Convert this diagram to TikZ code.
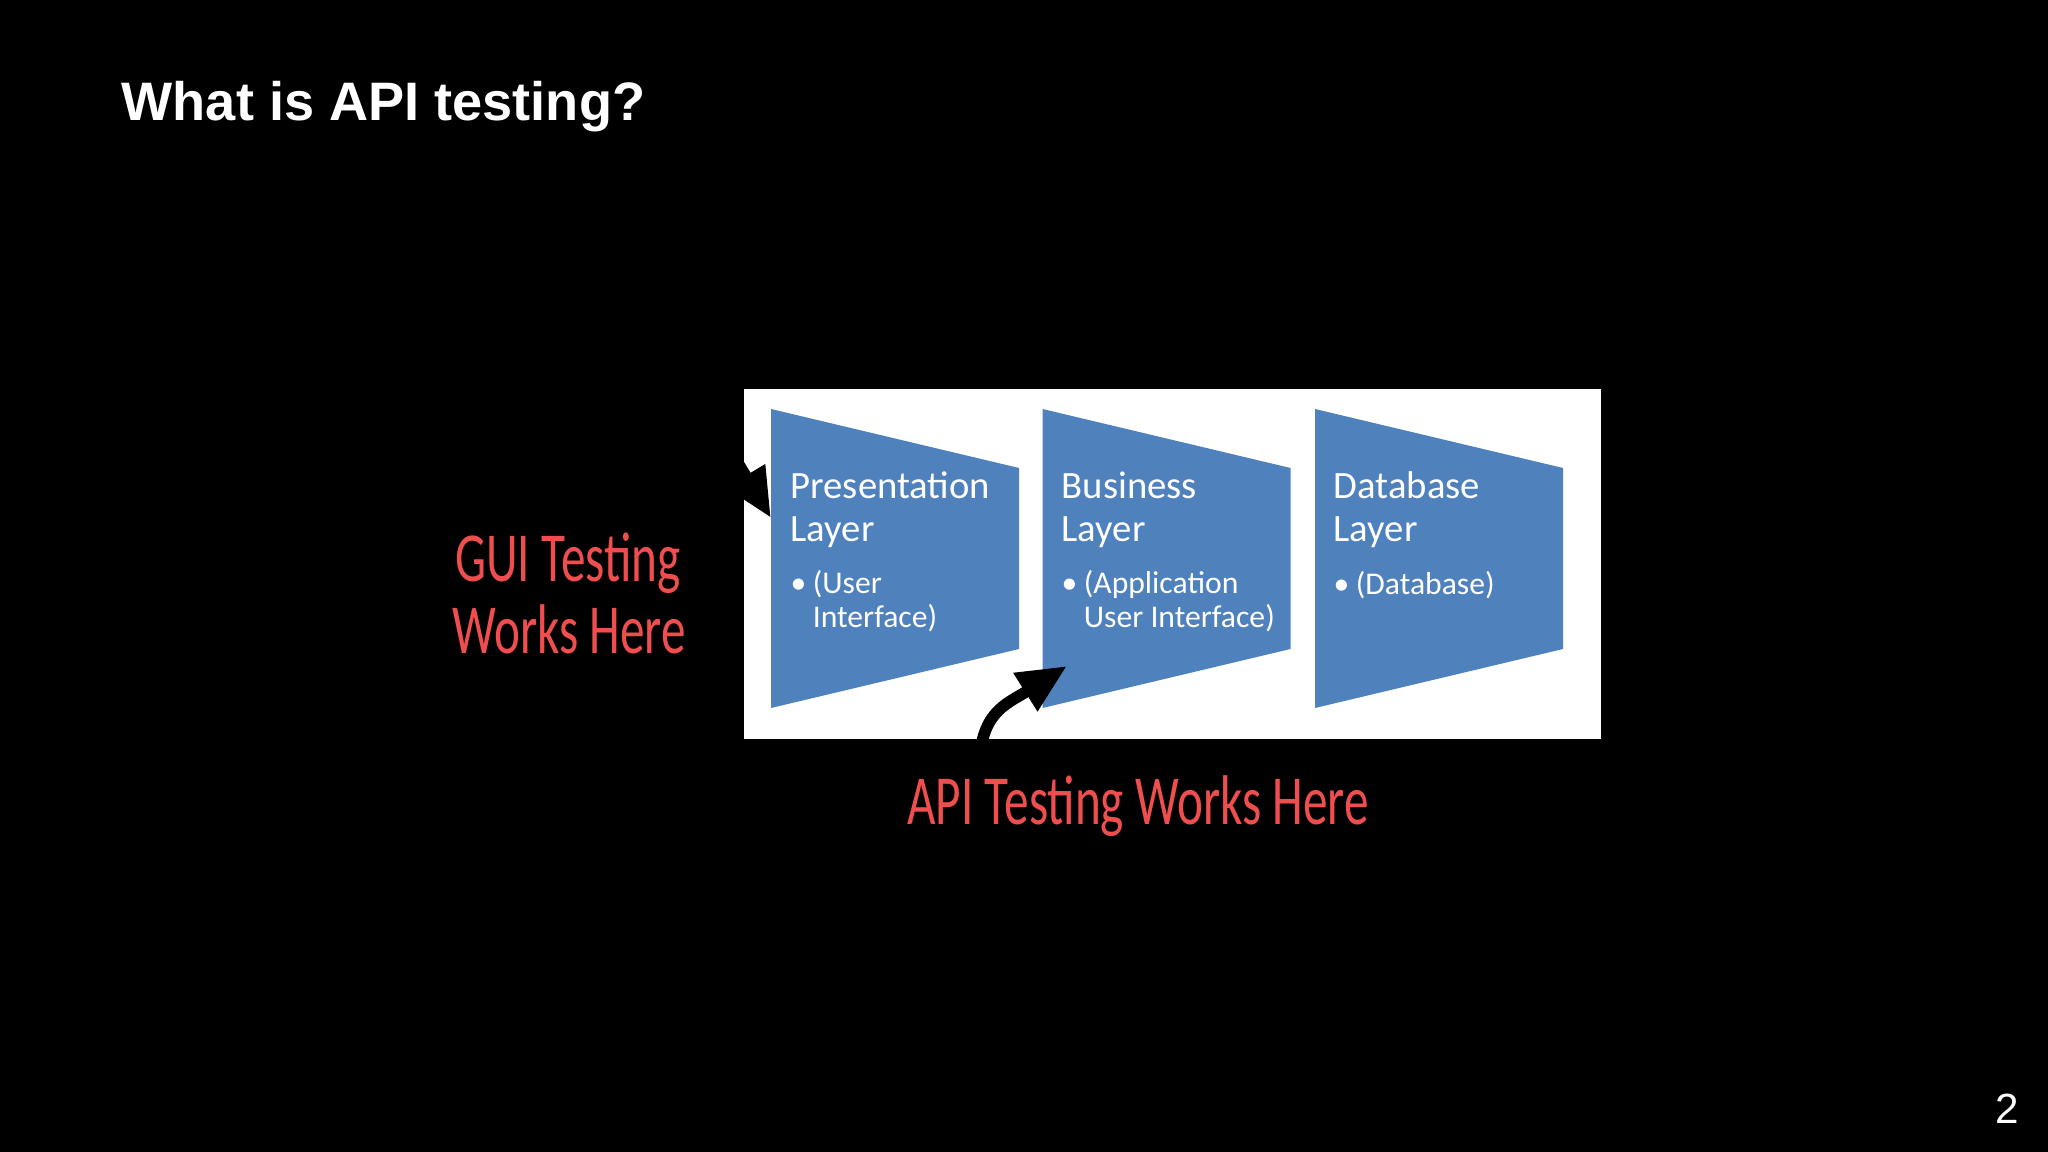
\documentclass[tikz,border=0pt]{standalone}
\usepackage{fontspec}
\setmainfont{Liberation Sans}
\newfontfamily\calib{Carlito}
\usetikzlibrary{arrows.meta}
\definecolor{layerblue}{RGB}{79,129,189}
\definecolor{handred}{RGB}{238,78,78}
\tikzset{
  layershape/.style={fill=layerblue},
  layertitle/.style={anchor=base west, inner sep=0, text=white, align=left,
    font=\calib\fontsize{11}{12.5}\selectfont},
  layerbullet/.style={anchor=base west, inner sep=0, text=white, align=left,
    font=\calib\fontsize{9}{9.5}\selectfont},
  handtext/.style={anchor=base, inner sep=0, text=handred, align=center,
    font=\calib\fontsize{20}{20.5}\selectfont},
  fatarrow/.style={draw=black, line width=3.3pt,
    -{Triangle[length=14pt,width=12pt]}}
}
\newcommand\bul{\makebox[6.3pt][l]{•}}
\begin{document}
\begin{tikzpicture}[x=0.01cm,y=-0.01cm]
\fill[black] (0,0) rectangle (2048,1152);
\useasboundingbox (0,0) rectangle (2048,1152);

\node[anchor=base west, inner sep=0, text=white,
  font=\fontsize{15.4}{18}\selectfont\bfseries] (title) at (121,121) {What is API testing?};
\node[anchor=base east, inner sep=0, text=white,
  font=\fontsize{12}{14}\selectfont] (pnum) at (2020,1123) {2};

\node[fill=white, inner sep=0, minimum width=8.57cm, minimum height=3.5cm,
  anchor=north west] (panel) at (743,388) {};

\fill[layershape] (771,409) -- (1019,468) -- (1019,649) -- (771,708) -- cycle;
\fill[layershape] (1042.5,409) -- (1290.5,468) -- (1290.5,649) -- (1042.5,708) -- cycle;
\fill[layershape] (1315,409) -- (1563,468) -- (1563,649) -- (1315,708) -- cycle;

\node[layertitle] (pres) at (790,542) {Presentation\\Layer};
\node[layerbullet] (presb) at (790,627) {\bul(User\\\hspace*{6.3pt}Interface)};
\node[layertitle] (bus) at (1061,542) {Business\\Layer};
\node[layerbullet] (busb) at (1061,627) {\bul(Application\\\hspace*{6.3pt}User Interface)};
\node[layertitle] (db) at (1333,542) {Database\\Layer};
\node[layerbullet] (dbb) at (1333,594) {\bul(Database)};

\node[handtext] (gui) at (568,581) {\scalebox{0.7}[1]{GUI Testing}};
\node[handtext] (gui2) at (569,653) {\scalebox{0.7}[1]{Works Here}};
\node[handtext] (api) at (1138,824) {\scalebox{0.7}[1]{API Testing Works Here}};

\coordinate (guistart) at (700,400);
\coordinate (guitip) at (771,518);
\coordinate (apistart) at (979,770);
\coordinate (apitip) at (1067,666);
\draw[fatarrow] (guistart) -- (guitip);
\draw[fatarrow] (apistart) .. controls (980,712) and (1005,705) .. (apitip);
\end{tikzpicture}
\end{document}
